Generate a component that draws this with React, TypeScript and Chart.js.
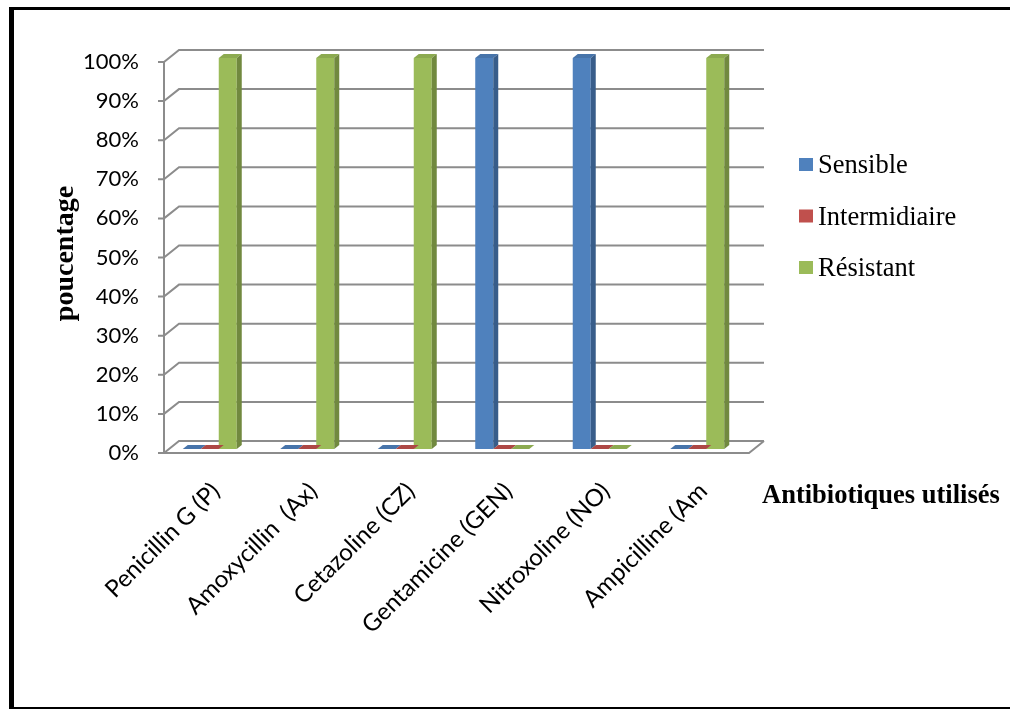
import React, { useEffect, useRef } from 'react';
import { Chart, registerables } from 'chart.js';

Chart.register(...registerables);

const categories = [
  'Penicillin G (P)',
  'Amoxycillin  (Ax)',
  'Cetazoline (CZ)',
  'Gentamicine (GEN)',
  'Nitroxoline (NO)',
  'Ampicilline (Am',
];
const seriesNames = ['Sensible', 'Intermidiaire', 'Résistant'];
const sensible = [0, 0, 0, 100, 100, 0];
const intermidiaire = [0, 0, 0, 0, 0, 0];
const resistant = [100, 100, 100, 0, 0, 100];
const yMin = 0;
const yMax = 100;
const yStep = 10;
const xAxisTitle = 'Antibiotiques utilisés';
const yAxisTitle = 'poucentage';

const frontColors = ['#4F81BD', '#C0504D', '#9BBB59'];
const sideColors = ['#385D8A', '#8C3836', '#71893F'];
const topColors = ['#4774AA', '#AD4845', '#8CAA50'];

const GRID = '#8c8c8c';
const FRONT_DX = 3;
const FRONT_DY = 4;
const BACK_DX = 15;
const BACK_DY = -12;
const BAR_DX = 5;
const BAR_DY = -4;

const threeD = {
  id: 'threeD',
  beforeDatasetsDraw(chart: any) {
    const { ctx, chartArea, scales } = chart;
    const y = scales.y;
    const fx = chartArea.left + FRONT_DX;
    const fr = chartArea.right + FRONT_DX;
    ctx.save();
    ctx.strokeStyle = GRID;
    ctx.lineWidth = 2;
    ctx.lineJoin = 'miter';
    y.ticks.forEach((t: any) => {
      const yf = y.getPixelForValue(t.value) + FRONT_DY;
      ctx.beginPath();
      ctx.moveTo(fx - 6, yf);
      ctx.lineTo(fx, yf);
      ctx.lineTo(fx + BACK_DX, yf + BACK_DY);
      ctx.lineTo(fr + BACK_DX, yf + BACK_DY);
      ctx.stroke();
    });
    const y0 = y.getPixelForValue(yMin) + FRONT_DY;
    const yT = y.getPixelForValue(yMax) + FRONT_DY;
    ctx.beginPath();
    ctx.moveTo(fx, yT);
    ctx.lineTo(fx, y0);
    ctx.lineTo(fr, y0);
    ctx.lineTo(fr + BACK_DX, y0 + BACK_DY);
    ctx.stroke();
    ctx.restore();
  },
  afterDatasetsDraw(chart: any) {
    const { ctx } = chart;
    ctx.save();
    chart.data.datasets.forEach((_ds: any, di: number) => {
      const meta = chart.getDatasetMeta(di);
      meta.data.forEach((el: any) => {
        const { x, y, base, width } = el.getProps(['x', 'y', 'base', 'width'], true);
        const l = x - width / 2;
        const r = x + width / 2;
        ctx.fillStyle = topColors[di];
        ctx.beginPath();
        ctx.moveTo(l, y);
        ctx.lineTo(l + BAR_DX, y + BAR_DY);
        ctx.lineTo(r + BAR_DX, y + BAR_DY);
        ctx.lineTo(r, y);
        ctx.closePath();
        ctx.fill();
        if (base - y > 0.5) {
          ctx.fillStyle = sideColors[di];
          ctx.beginPath();
          ctx.moveTo(r, y);
          ctx.lineTo(r + BAR_DX, y + BAR_DY);
          ctx.lineTo(r + BAR_DX, base + BAR_DY);
          ctx.lineTo(r, base);
          ctx.closePath();
          ctx.fill();
        }
      });
    });
    ctx.restore();
  },
  afterDraw(chart: any) {
    const { ctx, chartArea } = chart;
    ctx.save();
    const lx = chartArea.right + 53;
    chart.data.datasets.forEach((ds: any, i: number) => {
      const base = 173 + i * 51.5;
      ctx.fillStyle = ds.backgroundColor;
      ctx.fillRect(lx, base - 15, 14, 13);
      ctx.fillStyle = '#000';
      ctx.font = '26.5px "Liberation Serif"';
      ctx.textAlign = 'left';
      ctx.textBaseline = 'alphabetic';
      ctx.fillText(ds.label, lx + 19, base);
    });
    ctx.font = 'bold 26.5px "Liberation Serif"';
    ctx.fillStyle = '#000';
    ctx.textAlign = 'left';
    ctx.textBaseline = 'alphabetic';
    ctx.fillText(xAxisTitle, 762, 503);
    ctx.restore();
  },
};

export default function App() {
  const ref = useRef<HTMLCanvasElement>(null);
  useEffect(() => {
    if (!ref.current) return;
    const chart = new Chart(ref.current, {
      type: 'bar',
      data: {
        labels: categories,
        datasets: [
          { label: seriesNames[0], data: sensible, backgroundColor: frontColors[0] },
          { label: seriesNames[1], data: intermidiaire, backgroundColor: frontColors[1] },
          { label: seriesNames[2], data: resistant, backgroundColor: frontColors[2] },
        ],
      },
      options: {
        responsive: false,
        animation: false,
        devicePixelRatio: 1,
        layout: { padding: { left: 0, right: 264, top: 58, bottom: 0 } },
        datasets: { bar: { categoryPercentage: 0.554, barPercentage: 1, borderWidth: 0 } },
        plugins: { legend: { display: false }, tooltip: { enabled: false } },
        scales: {
          x: {
            grid: { display: false, drawTicks: false },
            border: { display: false },
            ticks: {
              autoSkip: false,
              minRotation: 45,
              maxRotation: 45,
              padding: 28,
              labelOffset: 6,
              color: '#000',
              font: { family: 'Lato', size: 24 },
            },
            afterFit: (s: any) => {
              s.height = 262;
            },
          },
          y: {
            min: yMin,
            max: yMax,
            grid: { display: false, drawTicks: false },
            border: { display: false },
            ticks: {
              stepSize: yStep,
              padding: 22,
              labelOffset: 4,
              color: '#000',
              font: { family: 'Lato', size: 22 },
              callback: (v: any) => v + '%',
            },
            title: {
              display: true,
              text: yAxisTitle,
              color: '#000',
              font: { family: 'Liberation Serif', size: 28, weight: 'bold' },
              padding: { top: 49, bottom: 0 },
            },
            afterFit: (s: any) => {
              s.width = 161;
            },
          },
        },
      },
      plugins: [threeD],
    });
    return () => chart.destroy();
  }, []);

  return (
    <div style={{ position: 'absolute', left: 0, top: 0, width: 1010, height: 711, background: '#fff' }}>
      <div
        style={{
          position: 'absolute',
          left: 9,
          top: 7,
          width: 1001,
          height: 702,
          borderLeft: '5px solid #000',
          borderTop: '3px solid #000',
          borderBottom: '2px solid #000',
          boxSizing: 'border-box',
        }}
      />
      <canvas ref={ref} width={1010} height={711} style={{ position: 'absolute', left: 0, top: 0 }} />
    </div>
  );
}
